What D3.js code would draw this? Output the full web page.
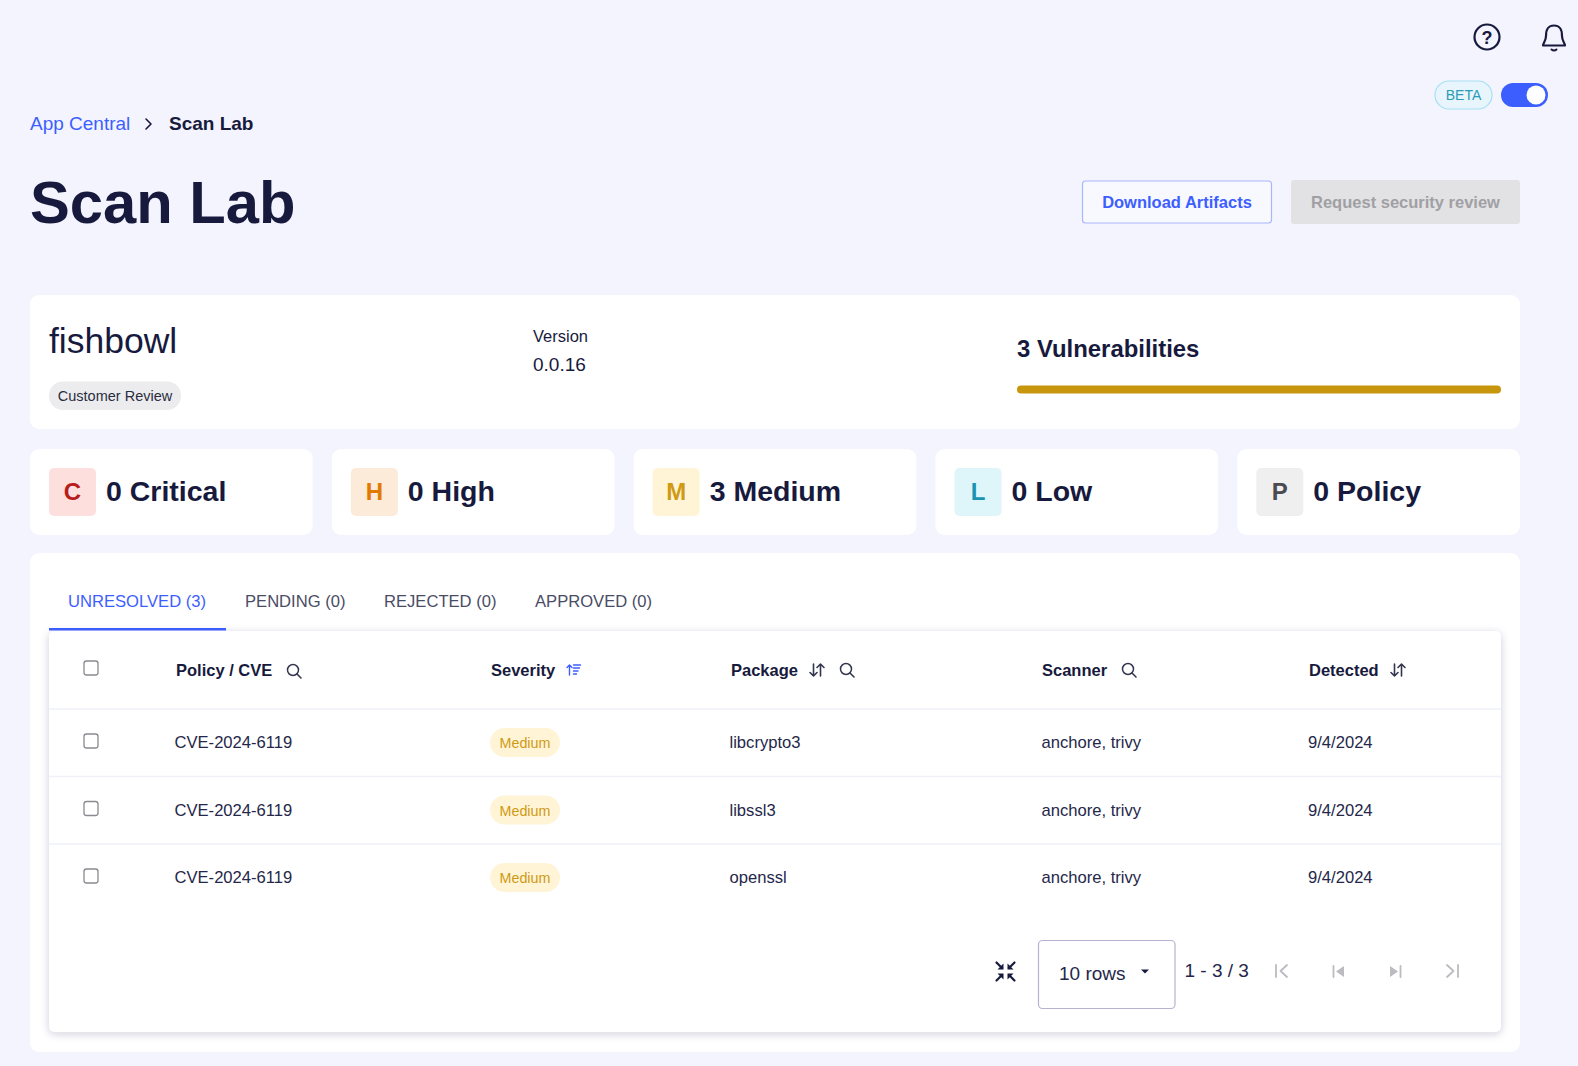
<!DOCTYPE html>
<html>
<head>
<meta charset="utf-8">
<title>Scan Lab</title>
<script src="https://cdn.jsdelivr.net/npm/d3@7"></script>
<style>
  html, body { margin: 0; padding: 0; background: #f3f4fd; overflow: hidden; }
  text { font-family: "Liberation Sans", Arial, sans-serif; }
</style>
</head>
<body>
<div id="container"></div>
<script>
const severityNames = ['Critical', 'High', 'Medium', 'Low', 'Policy'];
const severityCounts = [0, 0, 3, 0, 0];
const severityLetters = ['C', 'H', 'M', 'L', 'P'];
const severityFills = ['#fde0de', '#fcebd9', '#fff4d6', '#def5fa', '#efefef'];
const severityInks = ['#b81c1c', '#e07a00', '#cf9a14', '#1a94b4', '#4a4a50'];

const tabLabels = ['UNRESOLVED (3)', 'PENDING (0)', 'REJECTED (0)', 'APPROVED (0)'];
const tabStarts = [68, 245, 384, 535];

const columnNames = ['Policy / CVE', 'Severity', 'Package', 'Scanner', 'Detected'];
const columnStarts = [176, 491, 731, 1042, 1309];

const rowCves = ['CVE-2024-6119', 'CVE-2024-6119', 'CVE-2024-6119'];
const rowSeverities = ['Medium', 'Medium', 'Medium'];
const rowPackages = ['libcrypto3', 'libssl3', 'openssl'];
const rowScanners = ['anchore, trivy', 'anchore, trivy', 'anchore, trivy'];
const rowDates = ['9/4/2024', '9/4/2024', '9/4/2024'];

const ink = '#171a3d';
const blue = '#3d5eff';

const svg = d3.select('#container').append('svg')
  .attr('width', 1578).attr('height', 1066)
  .style('display', 'block');

const defs = svg.append('defs');
const shadow = defs.append('filter').attr('id', 'cardShadow')
  .attr('x', '-3%').attr('y', '-5%').attr('width', '106%').attr('height', '110%');
shadow.append('feDropShadow')
  .attr('dx', 0).attr('dy', 2).attr('stdDeviation', 4)
  .attr('flood-color', '#20245a').attr('flood-opacity', 0.2);

svg.append('rect').attr('width', 1578).attr('height', 1066).attr('fill', '#f3f4fd');

function label(g, x, y, str, size, weight, fill, anchor) {
  return g.append('text')
    .attr('x', x).attr('y', y)
    .attr('dominant-baseline', 'central')
    .attr('text-anchor', anchor || 'start')
    .attr('font-size', size)
    .attr('font-weight', weight)
    .attr('fill', fill)
    .text(str);
}

function card(g, x, y, w, h, r) {
  return g.append('rect')
    .attr('x', x).attr('y', y).attr('width', w).attr('height', h)
    .attr('rx', r).attr('fill', '#fff');
}

function outline(g, d, color, width) {
  return g.append('path').attr('d', d)
    .attr('fill', 'none').attr('stroke', color)
    .attr('stroke-width', width || 2)
    .attr('stroke-linecap', 'round').attr('stroke-linejoin', 'round');
}

function searchIcon(g, x, y, color) {
  const i = g.append('g').attr('transform', `translate(${x},${y})`);
  i.append('circle').attr('r', 5.5).attr('cx', -1).attr('cy', -1)
    .attr('fill', 'none').attr('stroke', color).attr('stroke-width', 1.5);
  outline(i, 'M3 3L7 7', color, 1.6);
}

function sortIcon(g, x, y, color) {
  const i = g.append('g').attr('transform', `translate(${x},${y})`);
  outline(i, 'M-3.5 -6V6M-7 2.5L-3.5 6L0 2.5', color, 1.6);
  outline(i, 'M3.5 6V-6M0 -2.5L3.5 -6L7 -2.5', color, 1.6);
}

// header
const header = svg.append('g');
header.append('circle').attr('cx', 1487).attr('cy', 37).attr('r', 12.5)
  .attr('fill', 'none').attr('stroke', ink).attr('stroke-width', 2.2);
label(header, 1487, 38, '?', 18, 700, ink, 'middle');
outline(header, 'M1546 36C1546 29 1548 25.5 1554 25.5C1560 25.5 1562 29 1562 36C1562 41 1565 43 1565 45.5H1543C1543 43 1546 41 1546 36Z', ink, 2.2);
outline(header, 'M1551.5 49.5C1553 50.8 1555 50.8 1556.5 49.5', ink, 2);

header.append('rect').attr('x', 1435).attr('y', 81).attr('width', 57).attr('height', 28).attr('rx', 14)
  .attr('fill', '#e8f5fc').attr('stroke', '#a6e0f2').attr('stroke-width', 1.2);
label(header, 1463.5, 95, 'BETA', 14, 400, '#2b9bb8', 'middle');
header.append('rect').attr('x', 1501).attr('y', 83).attr('width', 47).attr('height', 24).attr('rx', 12).attr('fill', blue);
header.append('circle').attr('cx', 1536).attr('cy', 95).attr('r', 9.5).attr('fill', '#fff');

label(header, 30, 123.5, 'App Central', 19, 400, blue);
outline(header, 'M146 119L151 124L146 129', ink, 1.6);
label(header, 169, 123.5, 'Scan Lab', 19, 700, ink);
label(header, 30, 202, 'Scan Lab', 59.7, 700, ink);

header.append('rect').attr('x', 1082.5).attr('y', 181).attr('width', 189).attr('height', 42).attr('rx', 3)
  .attr('fill', '#f8f9ff').attr('stroke', '#a9b6fb').attr('stroke-width', 1.2);
label(header, 1177, 202, 'Download Artifacts', 16.5, 700, blue, 'middle');
header.append('rect').attr('x', 1291).attr('y', 180).attr('width', 229).attr('height', 44).attr('rx', 3).attr('fill', '#e2e2e4');
label(header, 1405.5, 202, 'Request security review', 16.5, 700, '#a0a0a4', 'middle');

// summary card
const summary = svg.append('g');
card(summary, 30, 295, 1490, 134, 9);
label(summary, 49, 341, 'fishbowl', 35.5, 400, ink);
summary.append('rect').attr('x', 49).attr('y', 381.5).attr('width', 132).attr('height', 28.5).attr('rx', 14).attr('fill', '#ececee');
label(summary, 115, 395.5, 'Customer Review', 14.5, 400, '#2a2c40', 'middle');
label(summary, 533, 335.5, 'Version', 16.5, 400, ink);
label(summary, 533, 364, '0.0.16', 19, 400, ink);
label(summary, 1017, 348, `${d3.sum(severityCounts)} Vulnerabilities`, 23.9, 700, ink);

// stacked vulnerability bar, one segment per severity
const barX = d3.scaleLinear().domain([0, d3.sum(severityCounts)]).range([1017, 1501]);
let running = 0;
const barSegments = severityCounts.map((c) => {
  const seg = { start: running, count: c };
  running += c;
  return seg;
});
summary.selectAll('rect.seg').data(barSegments.filter((d) => d.count > 0)).enter().append('rect')
  .attr('class', 'seg')
  .attr('x', (d) => barX(d.start))
  .attr('y', 385.5)
  .attr('width', (d) => barX(d.start + d.count) - barX(d.start))
  .attr('height', 8)
  .attr('rx', 4)
  .attr('fill', '#c8960c');

// severity cards
const cardX = d3.scaleBand().domain(severityNames).range([30, 1520]).paddingInner(0.0635);
const stat = svg.selectAll('g.stat').data(severityNames).enter().append('g')
  .attr('class', 'stat')
  .attr('transform', (d) => `translate(${cardX(d)},449)`);
stat.append('rect').attr('width', cardX.bandwidth()).attr('height', 86).attr('rx', 9).attr('fill', '#fff');
stat.append('rect').attr('x', 19).attr('y', 19).attr('width', 47).attr('height', 48).attr('rx', 5)
  .attr('fill', (d, i) => severityFills[i]);
stat.append('text').attr('x', 42.5).attr('y', 42)
  .attr('text-anchor', 'middle').attr('dominant-baseline', 'central')
  .attr('font-size', 24).attr('font-weight', 700)
  .attr('fill', (d, i) => severityInks[i])
  .text((d, i) => severityLetters[i]);
stat.append('text').attr('x', 76).attr('y', 41.5)
  .attr('dominant-baseline', 'central')
  .attr('font-size', 28.5).attr('font-weight', 700).attr('fill', ink)
  .text((d, i) => `${severityCounts[i]} ${d}`);

// table panel
const panel = svg.append('g');
card(panel, 30, 553, 1490, 499, 9);
panel.selectAll('text.tab').data(tabLabels).enter().append('text')
  .attr('class', 'tab')
  .attr('x', (d, i) => tabStarts[i]).attr('y', 601)
  .attr('dominant-baseline', 'central')
  .attr('font-size', 16.6)
  .attr('fill', (d, i) => (i === 0 ? blue : '#4a4c66'))
  .text((d) => d);

panel.append('rect').attr('x', 49).attr('y', 631).attr('width', 1452).attr('height', 401).attr('rx', 6)
  .attr('fill', '#fff').attr('filter', 'url(#cardShadow)');
panel.append('rect').attr('x', 49).attr('y', 628).attr('width', 177).attr('height', 2.5).attr('fill', blue);

const rowY = d3.scalePoint().domain(d3.range(rowCves.length)).range([742, 877]);

function checkbox(g, y) {
  g.append('rect').attr('x', 84).attr('y', y - 7).attr('width', 14).attr('height', 14).attr('rx', 2.5)
    .attr('fill', '#fff').attr('stroke', '#8a8a90').attr('stroke-width', 1.3);
}

// column headers
checkbox(panel, 668);
panel.selectAll('text.col').data(columnNames).enter().append('text')
  .attr('class', 'col')
  .attr('x', (d, i) => columnStarts[i]).attr('y', 670)
  .attr('dominant-baseline', 'central')
  .attr('font-size', 16.5).attr('font-weight', 700).attr('fill', ink)
  .text((d) => d);
searchIcon(panel, 294, 671, '#33364f');
const sevSort = panel.append('g').attr('transform', 'translate(573.5,670)');
outline(sevSort, 'M-4 -5V5M-6.5 -2.5L-4 -5L-1.5 -2.5', blue, 1.4);
outline(sevSort, 'M0 -5H7M0 -2H6M0 1H4.5M0 4H3', blue, 1.4);
sortIcon(panel, 817, 670, '#33364f');
searchIcon(panel, 847, 670, '#33364f');
searchIcon(panel, 1129, 670, '#33364f');
sortIcon(panel, 1398, 670, '#33364f');

// rows
const rows = panel.selectAll('g.row').data(rowCves).enter().append('g').attr('class', 'row');
rows.append('line')
  .attr('x1', 49).attr('x2', 1501)
  .attr('y1', (d, i) => rowY(i) - 33).attr('y2', (d, i) => rowY(i) - 33)
  .attr('stroke', '#eff0f8').attr('stroke-width', 1.5);
rows.each(function (d, i) { checkbox(d3.select(this), rowY(i) - 1); });
rows.append('rect')
  .attr('x', 490).attr('y', (d, i) => rowY(i) - 14)
  .attr('width', 70).attr('height', 29).attr('rx', 14.5).attr('fill', '#fff4d6');
rows.append('text').attr('x', 525).attr('y', (d, i) => rowY(i) + 1)
  .attr('text-anchor', 'middle').attr('dominant-baseline', 'central')
  .attr('font-size', 14.3).attr('fill', '#cf9a14')
  .text((d, i) => rowSeverities[i]);
const cellColumns = [
  { x: 174.5, values: rowCves },
  { x: 729.5, values: rowPackages },
  { x: 1041.5, values: rowScanners },
  { x: 1308, values: rowDates }
];
cellColumns.forEach((col) => {
  rows.append('text').attr('x', col.x).attr('y', (d, i) => rowY(i) + 0.5)
    .attr('dominant-baseline', 'central')
    .attr('font-size', 16.6).attr('fill', '#25274a')
    .text((d, i) => col.values[i]);
});

// pagination
const pager = panel.append('g');
const shrink = pager.append('g').attr('transform', 'translate(1005.5,971.5)');
[[-1, -1], [1, -1], [-1, 1], [1, 1]].forEach(([sx, sy]) => {
  const a = shrink.append('g').attr('transform', `scale(${sx},${sy})`);
  outline(a, 'M9 9L3.5 3.5', ink, 2.2);
  a.append('path').attr('d', 'M2 2H8L2 8Z').attr('fill', ink);
});
pager.append('rect').attr('x', 1038.5).attr('y', 940.5).attr('width', 136.5).attr('height', 68).attr('rx', 4)
  .attr('fill', '#fff').attr('stroke', '#b4b4d0').attr('stroke-width', 1.2);
label(pager, 1059, 973.5, '10 rows', 19, 400, '#25274a');
pager.append('path').attr('d', 'M1141 969.5H1149L1145 973.5Z').attr('fill', ink);
label(pager, 1184.5, 970.5, '1 - 3 / 3', 19, 400, '#25274a');
const grey = '#bcbcc0';
outline(pager, 'M1276 965V977M1287 965L1280.5 971L1287 977', grey, 1.8);
outline(pager, 'M1333.5 966V977', grey, 1.8);
pager.append('path').attr('d', 'M1344 966V977L1336 971.5Z').attr('fill', grey);
outline(pager, 'M1400.5 966V977', grey, 1.8);
pager.append('path').attr('d', 'M1390 966V977L1398 971.5Z').attr('fill', grey);
outline(pager, 'M1458 965V977M1447 965L1453.5 971L1447 977', grey, 1.8);
</script>
</body>
</html>
